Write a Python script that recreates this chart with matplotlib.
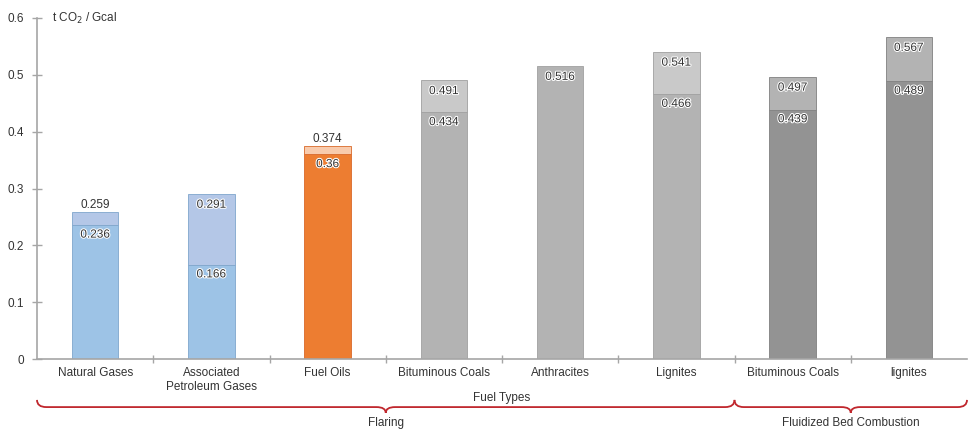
import matplotlib
matplotlib.use("Agg")
import matplotlib.pyplot as plt
import matplotlib.patheffects as pe
from matplotlib.path import Path
from matplotlib.patches import PathPatch
import matplotlib.transforms as mtransforms

categories = ["Natural Gases", "Associated\nPetroleum Gases", "Fuel Oils",
              "Bituminous Coals", "Anthracites", "Lignites",
              "Bituminous Coals", "lignites"]
lower_values = [0.236, 0.166, 0.36, 0.434, 0.516, 0.466, 0.439, 0.489]
total_values = [0.259, 0.291, 0.374, 0.491, 0.516, 0.541, 0.497, 0.567]
lower_colors = ["#9DC3E6", "#9DC3E6", "#ED7D31", "#B3B3B3", "#B3B3B3",
                "#B3B3B3", "#939393", "#939393"]
upper_colors = ["#B4C7E7", "#B4C7E7", "#F8CBAD", "#C9C9C9", "#B3B3B3",
                "#C9C9C9", "#B3B3B3", "#B3B3B3"]
edge_colors = ["#7FA6CC", "#7FA6CC", "#D9692A", "#A0A0A0", "#A0A0A0",
               "#A0A0A0", "#808080", "#808080"]
groups = [("Flaring", 0, 5), ("Fluidized Bed Combustion", 6, 7)]
y_ticks = [0, 0.1, 0.2, 0.3, 0.4, 0.5, 0.6]
y_tick_labels = ["0", "0.1", "0.2", "0.3", "0.4", "0.5", "0.6"]

plt.rcParams["font.family"] = ["Liberation Sans", "DejaVu Sans"]

W, H = 969, 429
fig = plt.figure(figsize=(W / 100, H / 100), dpi=100)
ax = fig.add_axes([37 / W, 70 / H, 930 / W, 341 / H])

x = list(range(len(categories)))
bw = 0.4
txt_color = "#333333"
halo = [pe.withStroke(linewidth=1.5, foreground="white")]

for i in x:
    lo = lower_values[i]
    tot = total_values[i]
    ax.bar(i, lo, width=bw, color=lower_colors[i], edgecolor=edge_colors[i],
           linewidth=0.6, zorder=2)
    if tot > lo:
        ax.bar(i, tot - lo, bottom=lo, width=bw, color=upper_colors[i],
               edgecolor=edge_colors[i], linewidth=0.6, zorder=2)
        ax.annotate(f"{lo:g}", (i, lo), xytext=(0, -7), textcoords="offset points",
                    ha="center", va="center", fontsize=8.5, color=txt_color,
                    path_effects=halo, zorder=4)
        if tot - lo < 0.03:
            ax.annotate(f"{tot:g}", (i, tot), xytext=(0, 5), textcoords="offset points",
                        ha="center", va="center", fontsize=8.5, color=txt_color, zorder=4)
        else:
            ax.annotate(f"{tot:g}", (i, tot), xytext=(0, -8), textcoords="offset points",
                        ha="center", va="center", fontsize=8.5, color=txt_color,
                        path_effects=halo, zorder=4)
    else:
        ax.annotate(f"{tot:g}", (i, tot), xytext=(0, -8), textcoords="offset points",
                    ha="center", va="center", fontsize=8.5, color=txt_color,
                    path_effects=halo, zorder=4)

ax.set_xlim(-0.5, len(categories) - 0.5)
ax.set_ylim(0, 0.6)

for s in ["top", "right"]:
    ax.spines[s].set_visible(False)
ax.spines["left"].set_color("#A6A6A6")
ax.spines["bottom"].set_color("#A6A6A6")
ax.spines["left"].set_linewidth(1.2)
ax.spines["bottom"].set_linewidth(1.2)

ax.set_yticks(y_ticks)
ax.set_yticklabels(y_tick_labels, fontsize=8.5, color=txt_color)
ax.tick_params(axis="y", direction="inout", length=7, width=1, color="#A6A6A6", pad=6)

ax.set_xticks(x)
ax.set_xticklabels(categories, fontsize=8.5, color=txt_color, linespacing=1.2)
ax.tick_params(axis="x", which="major", length=0, pad=6)
ax.set_xticks([i + 0.5 for i in x[:-1]], minor=True)
ax.tick_params(axis="x", which="minor", direction="inout", length=6, width=1,
               color="#A6A6A6")

ax.set_xlabel("Fuel Types", fontsize=8.5, color=txt_color, labelpad=-1)

ax.text(15 / 930, 1.0, "t CO$_2$ / Gcal", transform=ax.transAxes, fontsize=8.5,
        color=txt_color, ha="left", va="center")

# braces beneath the axis
trans = mtransforms.blended_transform_factory(ax.transData, ax.transAxes)
y_end = -0.120
y_mid = -0.141
y_tip = -0.158
r = 0.08
red = "#C0272D"
for name, a, b in groups:
    x0 = a - 0.5
    x1 = b + 0.5
    xm = (x0 + x1) / 2
    verts = [(x0, y_end), (x0, y_mid), (x0 + r, y_mid),
             (xm - r, y_mid),
             (xm, y_mid), (xm, y_tip),
             (xm, y_mid), (xm + r, y_mid),
             (x1 - r, y_mid),
             (x1, y_mid), (x1, y_end)]
    codes = [Path.MOVETO, Path.CURVE3, Path.CURVE3,
             Path.LINETO,
             Path.CURVE3, Path.CURVE3,
             Path.CURVE3, Path.CURVE3,
             Path.LINETO,
             Path.CURVE3, Path.CURVE3]
    patch = PathPatch(Path(verts, codes), transform=trans, fill=False,
                      edgecolor=red, linewidth=1.3, clip_on=False)
    ax.add_patch(patch)
    ax.text(xm, -0.188, name, transform=trans, ha="center", va="center",
            fontsize=8.5, color=txt_color)

fig.savefig("out.png", dpi=100)
